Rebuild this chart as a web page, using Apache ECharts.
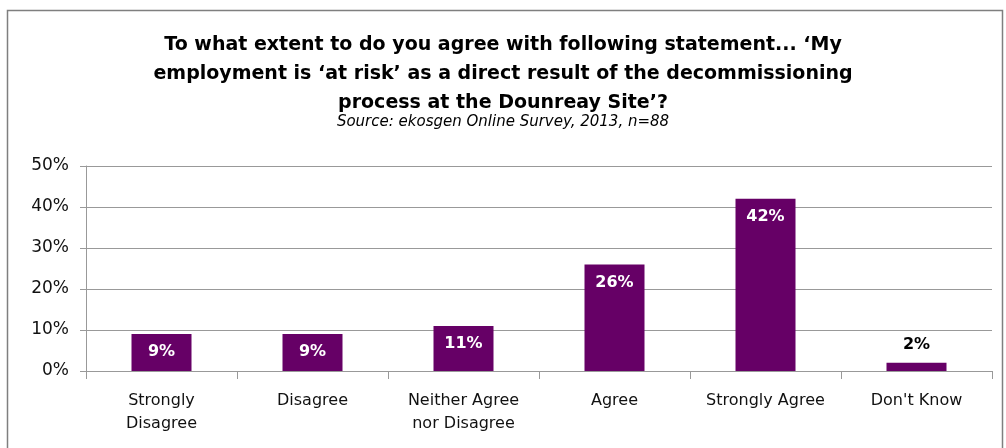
<!DOCTYPE html>
<html>
<head>
<meta charset="utf-8">
<script src="https://cdn.jsdelivr.net/npm/echarts@6/dist/echarts.min.js"></script>
<style>
  html, body { margin: 0; padding: 0; background: #fff; }
  #chart { width: 1006px; height: 448px; }
</style>
</head>
<body>
<div id="chart"></div>
<script>
// Survey responses (% of respondents)
const categories = ['Strongly\nDisagree', 'Disagree', 'Neither Agree\nnor Disagree', 'Agree', 'Strongly Agree', "Don't Know"];
const shares = [9, 9, 11, 26, 42, 2];
const yTicks = [0, 10, 20, 30, 40, 50];

const titleLines = [
  "To what extent to do you agree with following statement... \u2018My",
  "employment is \u2018at risk\u2019 as a direct result of the decommissioning",
  "process at the Dounreay Site\u2019?"
];
const sourceLine = 'Source: ekosgen Online Survey, 2013, n=88';

const FONT = '"DejaVu Sans", Lato, sans-serif';
const PURPLE = '#660066';

const chart = echarts.init(document.getElementById('chart'));

chart.setOption({
  animation: false,
  backgroundColor: '#fff',
  graphic: [
    {
      type: 'rect',
      shape: { x: 7.5, y: 10.5, width: 995, height: 460 },
      style: { fill: 'none', stroke: '#7f7f7f', lineWidth: 1.5 }
    },
    {
      type: 'text',
      left: 'center',
      top: 31,
      style: {
        text: titleLines.join('\n'),
        font: 'bold 19px ' + FONT,
        fill: '#000',
        textAlign: 'center',
        lineHeight: 29
      }
    },
    {
      type: 'text',
      left: 'center',
      top: 115,
      style: {
        text: sourceLine,
        font: 'italic 15px ' + FONT,
        fill: '#000',
        textAlign: 'center'
      }
    }
  ],
  grid: { left: 86, right: 14, top: 166, bottom: 77, containLabel: false },
  xAxis: {
    type: 'category',
    data: categories,
    axisLine: { show: true, lineStyle: { color: '#999', width: 1 } },
    axisTick: { show: true, alignWithLabel: false, length: 8, lineStyle: { color: '#999' } },
    axisLabel: {
      color: '#111',
      fontFamily: FONT,
      fontSize: 16,
      lineHeight: 23,
      margin: 18,
      interval: 0
    }
  },
  yAxis: {
    type: 'value',
    min: 0,
    max: 50,
    interval: 10,
    axisLine: { show: true, lineStyle: { color: '#999' } },
    axisTick: { show: true, length: 6, lineStyle: { color: '#999' } },
    splitLine: { show: true, lineStyle: { color: '#999', width: 1 } },
    axisLabel: {
      color: '#111',
      fontFamily: FONT,
      fontSize: 17,
      margin: 17,
      formatter: v => (yTicks.includes(v) ? v + '%' : '')
    }
  },
  series: [
    {
      type: 'bar',
      data: shares.map(v => ({
        value: v,
        label: v < 5
          ? { position: 'top', color: '#000', distance: 10 }
          : { position: 'insideTop', color: '#fff', distance: 10 }
      })),
      barWidth: 60,
      itemStyle: { color: PURPLE },
      label: {
        show: true,
        fontFamily: FONT,
        fontSize: 16,
        fontWeight: 'bold',
        formatter: p => p.value + '%'
      }
    }
  ]
});
</script>
</body>
</html>
